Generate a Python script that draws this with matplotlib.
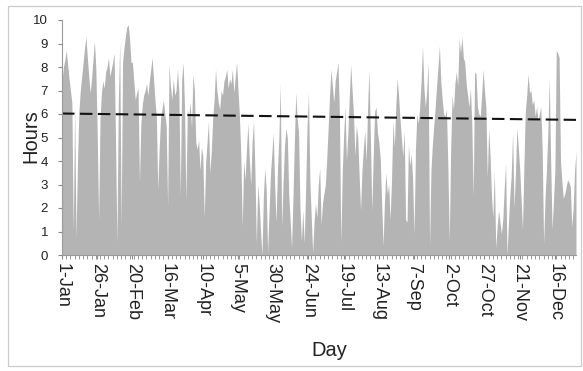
import numpy as np
import matplotlib
matplotlib.use("Agg")
import matplotlib.pyplot as plt
from matplotlib.patches import Rectangle

plt.rcParams["font.family"] = ["Liberation Sans", "DejaVu Sans"]

# Daily hours over a (leap) year, day 1 = 1 January
hours = [
    # Jan
    7.4, 8.0, 8.3, 8.7, 8.1, 7.5, 7.0, 6.5, 1.0, 6.3,
    0.7, 4.0, 6.1, 7.0, 7.6, 8.2, 8.8, 9.3, 8.4, 7.6,
    6.9, 7.5, 8.3, 9.1, 8.0, 5.2, 1.5, 5.8, 6.9, 7.4,
    7.1,
    # Feb
    7.8, 8.0, 8.4, 7.6, 7.9, 8.2, 8.6, 5.0, 0.5,
    6.5, 9.1, 1.2, 8.2, 8.8, 9.3, 9.7, 9.8, 9.2, 8.2,
    8.2, 7.4, 6.6, 6.9, 7.1, 3.1, 5.6, 6.4, 6.8,
    # Mar
    7.0, 7.3, 6.8, 7.4, 7.9, 8.4, 7.5, 6.6, 5.9, 2.8,
    4.5, 5.8, 6.2, 6.6, 6.0, 5.5, 2.1, 8.1, 7.2, 6.6,
    7.5, 6.8, 7.0, 7.9, 6.9, 2.5, 7.5, 8.2, 6.3, 2.3,
    6.2,
    # Apr
    5.9, 6.5, 5.4, 7.7, 7.0, 4.8, 4.5, 4.9, 3.6,
    4.6, 4.2, 1.6, 3.9, 4.8, 5.7, 3.5, 4.4, 5.8, 6.6,
    7.9, 7.0, 6.5, 6.2, 7.0, 6.8, 7.4, 7.6, 7.9, 7.1,
    7.5,
    # May
    7.3, 7.9, 6.9, 7.6, 8.2, 7.0, 5.9, 4.2, 1.2,
    4.0, 3.2, 4.5, 5.6, 4.1, 3.0, 4.8, 5.7, 3.6, 0.5,
    3.0, 2.2, 1.0, 0.0, 2.5, 3.7, 2.8, 0.1, 1.8, 3.4,
    4.3, 5.2,
    # Jun
    3.0, 1.4, 3.6, 5.0, 7.3, 1.2, 3.1, 4.6,
    5.4, 5.0, 2.6, 1.5, 0.3, 2.4, 4.8, 6.9, 5.8, 5.2,
    2.0, 0.6, 1.9, 0.5, 2.8, 5.4, 6.9, 3.2, 1.6, 0.1,
    1.4, 2.2, 1.6, 3.0,
    # Jul
    3.7, 1.3, 2.2, 2.6, 3.0, 4.1, 5.4,
    6.8, 7.9, 7.2, 6.5, 7.4, 7.8, 8.2, 6.0, 0.5, 3.5,
    5.1, 6.3, 4.0, 5.2, 6.7, 8.1, 7.0, 6.0, 4.2, 5.5,
    5.0, 3.4, 1.9, 3.6,
    # Aug
    4.5, 5.3, 4.0, 6.2, 7.9, 5.0,
    1.9, 4.2, 6.1, 6.3, 5.2, 4.8, 4.1, 2.2, 0.4, 2.3,
    3.5, 2.6, 3.0, 1.5, 3.2, 5.7, 4.6, 6.3, 7.5, 6.8,
    5.8, 5.0, 4.2, 5.3, 1.5,
    # Sep
    1.4, 4.7, 3.8, 4.3, 3.2,
    0.9, 4.5, 6.0, 5.6, 6.3, 7.4, 8.9, 7.1, 6.3, 7.0,
    8.2, 0.4, 3.6, 4.7, 5.5, 6.3, 7.2, 8.0, 8.9, 7.4,
    6.6, 6.0, 5.9, 6.2, 3.8,
    # Oct
    0.6, 4.5, 6.8, 6.2, 7.3,
    7.8, 7.2, 9.2, 8.6, 9.3, 8.4, 8.2, 7.3, 6.8, 6.3,
    7.1, 5.6, 2.5, 7.8, 7.7, 6.3, 6.0, 5.9, 6.8, 7.9,
    7.0, 6.3, 3.3, 5.4, 4.2, 2.5,
    # Nov
    1.6, 3.6, 0.3, 1.2,
    1.9, 1.4, 0.9, 1.5, 2.8, 3.9, 0.0, 1.3, 2.5, 3.4,
    5.2, 2.0, 3.5, 5.4, 4.6, 3.7, 2.4, 1.1, 3.8, 6.1,
    6.8, 7.7, 6.9, 7.0, 6.4, 6.6,
    # Dec
    5.9, 6.3, 5.7, 6.0,
    6.3, 4.5, 0.5, 2.4, 3.6, 5.2, 7.5, 4.0, 1.1, 2.3,
    3.6, 8.7, 8.6, 8.4, 4.0, 3.1, 2.4, 2.6, 2.9, 3.2,
    3.1, 2.9, 1.2, 2.0, 3.6, 4.4, 4.6,
]

# dashed reference level at the start and end of the year
level_days = [1, 366]
level_hours = [6.02, 5.75]

tick_days = [1, 26, 51, 76, 101, 126, 151, 176, 201, 226, 251, 276, 301, 326, 351]
tick_labels = ["1-Jan", "26-Jan", "20-Feb", "16-Mar", "10-Apr", "5-May", "30-May",
               "24-Jun", "19-Jul", "13-Aug", "7-Sep", "2-Oct", "27-Oct", "21-Nov",
               "16-Dec"]

hours = np.array(hours[:366])
days = np.arange(1, len(hours) + 1)

W, H = 583, 371
fig = plt.figure(figsize=(W / 100, H / 100), dpi=100)
fig.patch.set_facecolor("white")

# light chart-area border
fig.patches.append(Rectangle((8 / W, 5 / H), 573 / W, 360 / H, transform=fig.transFigure,
                             fill=False, edgecolor="#cccccc", linewidth=0.9))

ax_left, ax_right, ax_top, ax_bottom = 62, 576, 20, 255
ax = fig.add_axes([ax_left / W, (H - ax_bottom) / H,
                   (ax_right - ax_left) / W, (ax_bottom - ax_top) / H])
ax.fill_between(days, hours, 0, color="#b4b4b4", linewidth=0)

ax.plot(level_days, level_hours, color="#111111", linewidth=1.5, dashes=(6, 2.6))

ax.set_xlim(1, len(hours))
ax.set_ylim(0, 10)
ax.set_yticks(range(0, 11))
ax.set_xticks(tick_days)
ax.set_xticklabels(tick_labels, rotation=270, fontsize=13, color="#222222")
ax.set_xticks(np.arange(1, len(hours) + 1, 3), minor=True)
ax.tick_params(axis="x", which="major", length=3, pad=3, color="#888888")
ax.tick_params(axis="x", which="minor", length=3, color="#888888")
ax.tick_params(axis="y", length=3, pad=7, labelsize=9.5, color="#888888",
               labelcolor="#222222")

for side in ("top", "right"):
    ax.spines[side].set_visible(False)
for side in ("left", "bottom"):
    ax.spines[side].set_color("#999999")
    ax.spines[side].set_linewidth(0.8)

ax_w = ax_right - ax_left
ax_h = ax_bottom - ax_top
ax.set_ylabel("Hours", fontsize=14.5, color="#222222")
ax.yaxis.set_label_coords((31 - ax_left) / ax_w, (ax_bottom - 136) / ax_h)
ax.set_xlabel("Day", fontsize=14.5, color="#222222")
ax.xaxis.set_label_coords((329 - ax_left) / ax_w, (ax_bottom - 350) / ax_h)
ax.xaxis.label.set_verticalalignment("center")
ax.yaxis.label.set_verticalalignment("center")

fig.savefig("out.png", dpi=100, facecolor="white")
